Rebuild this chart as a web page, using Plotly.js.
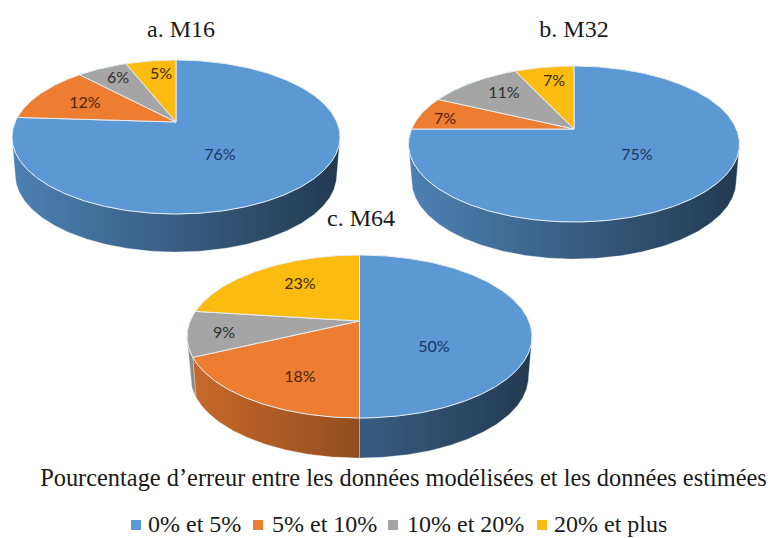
<!DOCTYPE html>
<html>
<head>
<meta charset="utf-8">
<script src="https://cdn.plot.ly/plotly-3.0.1.min.js"></script>
<style>html,body{margin:0;padding:0;background:#fff}#chart{width:770px;height:538px}</style>
</head>
<body>
<div id="chart"></div>
<script>
// ---- data ----
var categories = ['0% et 5%', '5% et 10%', '10% et 20%', '20% et plus'];
var seriesNames = ['a. M16', 'b. M32', 'c. M64'];
var valuesM16 = [76, 12, 6, 5];
var valuesM32 = [75, 7, 11, 7];
var valuesM64 = [50, 18, 9, 23];
var axisLabel = 'Pourcentage d’erreur entre les données modélisées et les données estimées';

// ---- styles and layout ----
var colors = ['#5b98d4', '#ed7d31', '#a5a5a5', '#fbbb10'];
var labelColors = ['#1c3660', '#4d1f0c', '#2e2e2e', '#3a2a08'];
var RIM = '#e6edf4';
var pies = [
  {values: valuesM16, ax: 176, ay: 122, top: 60, bottom: 214, rx: 164, depth: 38,
   title: [181, 31], labels: [[220,156],[85,104],[118,79],[161,75]]},
  {values: valuesM32, ax: 574, ay: 129, top: 66, bottom: 222, rx: 165.5, depth: 37,
   title: [574, 31], labels: [[637,156],[445,120],[504,94],[554,82]]},
  {values: valuesM64, ax: 359.5, ay: 321, top: 255, bottom: 418, rx: 172.5, depth: 40,
   title: [361, 220], labels: [[434,348],[300,378],[224,334],[300,285]]}
];
var keyX = [136, 258, 393, 542], keyTextX = [148, 272, 407, 554], keyY = 525;

function shade(hex, f) {
  var n = parseInt(hex.slice(1), 16);
  return 'rgb(' + [(n >> 16) & 255, (n >> 8) & 255, n & 255].map(function (c) { return Math.round(c * f); }).join(',') + ')';
}

var traces = [];
pies.forEach(function (p) {
  var up = p.ay - p.top, down = p.bottom - p.ay;
  var k = (down - up) / (down + up);
  var B = up * (1 + k);
  var A = p.rx * Math.sqrt(1 - k * k);
  var midY = (p.top + p.bottom) / 2;
  function rim(t) {
    var X = Math.sin(t), Y = -Math.cos(t), w = 1 - k * Y;
    return [p.ax + A * X / w, p.ay + B * Y / w];
  }
  var start = 0, tops = [], sides = [];
  p.values.forEach(function (v, i) {
    // labels are rounded percentages: the last slice closes the circle
    var a0 = start / 100 * 2 * Math.PI;
    var a1 = (i === p.values.length - 1 ? 100 : start + v) / 100 * 2 * Math.PI;
    start += v;
    var n = Math.max(2, Math.ceil((a1 - a0) * 90)), pts = [];
    for (var j = 0; j <= n; j++) pts.push(rim(a0 + (a1 - a0) * j / n));
    // top face
    var xs = [p.ax].concat(pts.map(function (q) { return q[0]; }), [p.ax]);
    var ys = [p.ay].concat(pts.map(function (q) { return q[1]; }), [p.ay]);
    tops.push({type: 'scatter', mode: 'lines', x: xs, y: ys, fill: 'toself', fillcolor: colors[i],
      line: {color: RIM, width: 1}, hoverinfo: 'skip', showlegend: false});
    // visible wall
    var front = pts.filter(function (q) { return q[1] >= midY; });
    if (front.length > 1) {
      var back = front.slice().reverse().map(function (q) { return [p.ax + (q[0] - p.ax) * 0.98, q[1] + p.depth]; });
      var poly = front.concat(back, [front[0]]);
      var px = poly.map(function (q) { return q[0]; });
      var u0 = (Math.min.apply(null, px) - p.ax + p.rx) / (2 * p.rx);
      var u1 = (Math.max.apply(null, px) - p.ax + p.rx) / (2 * p.rx);
      sides.push({type: 'scatter', mode: 'lines', x: px, y: poly.map(function (q) { return q[1]; }),
        fill: 'toself', line: {color: 'rgba(230,237,244,0.5)', width: 0.6},
        fillgradient: {type: 'horizontal', colorscale: [[0, shade(colors[i], 0.85 - 0.47 * u0)], [1, shade(colors[i], 0.85 - 0.47 * u1)]]},
        hoverinfo: 'skip', showlegend: false});
    }
  });
  traces = traces.concat(sides, tops);
  traces.push({type: 'scatter', mode: 'text', x: p.labels.map(function (l) { return l[0]; }),
    y: p.labels.map(function (l) { return l[1]; }),
    text: p.values.map(function (v) { return v + '%'; }),
    textfont: {family: 'Lato, sans-serif', size: 16, color: labelColors},
    hoverinfo: 'skip', showlegend: false});
});

// sub-chart titles and the caption
traces.push({type: 'scatter', mode: 'text',
  x: pies.map(function (p) { return p.title[0]; }), y: pies.map(function (p) { return p.title[1]; }),
  text: seriesNames, textfont: {family: '"Liberation Serif", serif', size: 24, color: '#1a1a1a'},
  hoverinfo: 'skip', showlegend: false});
traces.push({type: 'scatter', mode: 'text', x: [403.5], y: [480], text: [axisLabel],
  textfont: {family: '"Liberation Serif", serif', size: 24.4, color: '#1a1a1a'},
  hoverinfo: 'skip', showlegend: false});

// colour key
categories.forEach(function (c, i) {
  traces.push({type: 'scatter', mode: 'markers', x: [keyX[i]], y: [keyY], name: c,
    marker: {symbol: 'square', size: 10, color: colors[i]},
    hoverinfo: 'skip', showlegend: false});
  traces.push({type: 'scatter', mode: 'text', x: [keyTextX[i]], y: [keyY + 1], text: [c],
    textposition: 'middle right',
    textfont: {family: '"Liberation Serif", serif', size: 24, color: '#1a1a1a'},
    hoverinfo: 'skip', showlegend: false});
});

Plotly.newPlot('chart', traces, {
  width: 770, height: 538,
  margin: {l: 0, r: 0, t: 0, b: 0},
  paper_bgcolor: '#fff', plot_bgcolor: '#fff',
  showlegend: false,
  xaxis: {range: [0, 770], visible: false, fixedrange: true},
  yaxis: {range: [538, 0], visible: false, fixedrange: true}
}, {displayModeBar: false, staticPlot: true});
</script>
</body>
</html>
